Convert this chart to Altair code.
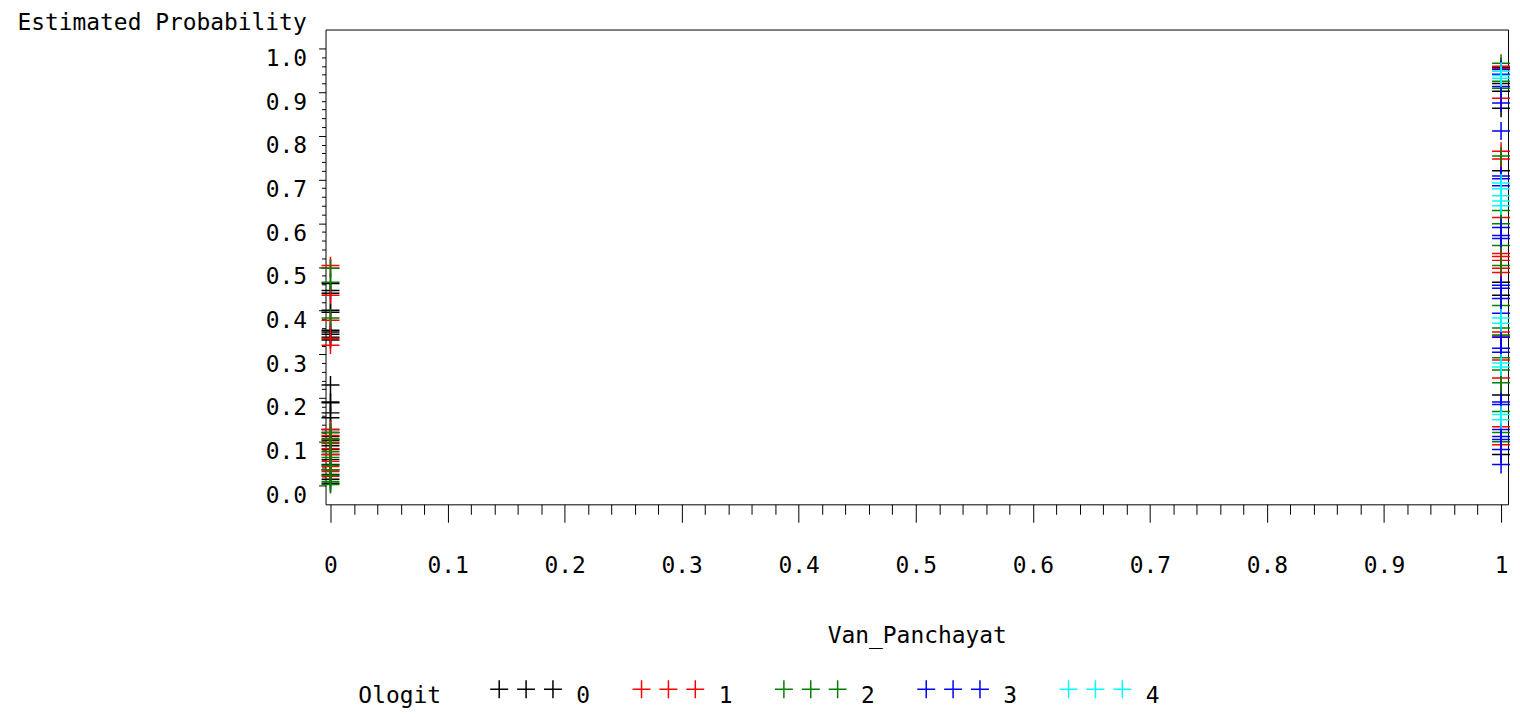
import altair as alt
import pandas as pd

# Estimated probabilities
# Van_Panchayat = 0
p0_g0 = [0.462, 0.446, 0.440, 0.401, 0.396, 0.355, 0.351, 0.346, 0.339, 0.333,
         0.230, 0.191, 0.189, 0.166, 0.155, 0.128, 0.121, 0.112, 0.103, 0.091,
         0.082, 0.071, 0.059, 0.048, 0.036, 0.025, 0.014, 0.005]
p0_g1 = [0.503, 0.497, 0.435, 0.378, 0.337, 0.321, 0.128, 0.114, 0.105, 0.096,
         0.084, 0.071, 0.055, 0.043, 0.032, 0.021]
p0_g2 = [0.497, 0.465, 0.383, 0.121, 0.107, 0.098, 0.077, 0.064, 0.046, 0.036,
         0.023, 0.009, 0.002]
# Van_Panchayat = 1
p1_g0 = [0.957, 0.920, 0.902, 0.863, 0.720, 0.465, 0.435, 0.207, 0.071]
p1_g1 = [0.959, 0.954, 0.886, 0.765, 0.747, 0.613, 0.531, 0.524, 0.515, 0.497,
         0.487, 0.351, 0.342, 0.287, 0.246, 0.134, 0.093]
p1_g2 = [0.966, 0.925, 0.909, 0.754, 0.629, 0.599, 0.549, 0.503, 0.412, 0.360,
         0.344, 0.292, 0.264, 0.235, 0.169, 0.121, 0.100]
p1_g3 = [0.952, 0.941, 0.913, 0.875, 0.811, 0.708, 0.702, 0.686, 0.590, 0.572,
         0.565, 0.458, 0.451, 0.428, 0.394, 0.339, 0.314, 0.305, 0.191, 0.185,
         0.128, 0.112, 0.105, 0.082, 0.048]
p1_g4 = [0.948, 0.938, 0.932, 0.692, 0.679, 0.663, 0.651, 0.640, 0.383, 0.371,
         0.280, 0.271, 0.162, 0.150]

groups = ["0", "1", "2", "3", "4"]
colors = ["#000000", "#ff0000", "#008000", "#0000ff", "#00ffff"]
tick_vals = [round(i * 0.02, 2) for i in range(51)]

series = [
    ("0", 0, p0_g0), ("0", 1, p1_g0),
    ("1", 0, p0_g1), ("1", 1, p1_g1),
    ("2", 0, p0_g2), ("2", 1, p1_g2),
    ("3", 1, p1_g3),
    ("4", 1, p1_g4),
]
rows = []
order = 0
for g, xv, vals in series:
    for v in vals:
        rows.append({"Ologit": g, "Van_Panchayat": xv, "prob": v, "ord": order})
        order += 1
df = pd.DataFrame(rows)

FONT = "DejaVu Sans Mono"
FS = 23
CROSS = "M-1,0L1,0M0,-1L0,1"
# three crosses, drawn a little above the entry centre so the label sits lower
CROSS3 = ("M-1,-0.78L1,-0.78M0,-1.78L0,0.22"
          "M2,-0.78L4,-0.78M3,-1.78L3,0.22"
          "M5,-0.78L7,-0.78M6,-1.78L6,0.22")
major = "round(datum.value*50) % 5 == 0"

chart = alt.Chart(df).mark_point(
    shape=CROSS, size=324, filled=False, strokeWidth=1.5, opacity=1
).encode(
    x=alt.X("Van_Panchayat:Q",
            scale=alt.Scale(domain=[-0.00425, 1.00595], nice=False, zero=False),
            axis=alt.Axis(
                values=tick_vals, title="Van_Panchayat",
                labelExpr=f"{major} ? format(datum.value, '.1~f') : ''",
                tickSize={"condition": {"test": major, "value": 18}, "value": 10},
                labelPadding=44, labelBaseline="middle", labelOverlap=False,
                labelFlush=False, titleY=132, titleBaseline="middle",
                titleFontWeight="normal", grid=False, domain=False)),
    y=alt.Y("prob:Q",
            scale=alt.Scale(domain=[-0.04328, 1.04328], nice=False, zero=False),
            axis=alt.Axis(
                values=tick_vals, title="Estimated Probability",
                labelExpr=f"{major} ? format(datum.value, '.1f') : ''",
                tickSize={"condition": {"test": major, "value": 7}, "value": 4},
                labelPadding=12, labelOffset=10, labelBaseline="middle",
                labelOverlap=False, labelFlush=False,
                titleAngle=0, titleAlign="left", titleBaseline="middle",
                titleX=-310, titleY=-7, titleFontWeight="normal",
                grid=False, domain=False)),
    color=alt.Color("Ologit:N",
                    scale=alt.Scale(domain=groups, range=colors),
                    legend=alt.Legend(
                        orient="none", legendX=33, legendY=658,
                        direction="horizontal", title="Ologit",
                        titleOrient="left", titleFontWeight="normal",
                        titleBaseline="middle", titlePadding=46,
                        symbolType=CROSS3, symbolSize=324,
                        symbolStrokeWidth=1.5, labelOffset=66,
                        columnPadding=39, labelBaseline="middle", padding=0)),
    order=alt.Order("ord:Q"),
).properties(
    width=1188, height=477, background="white",
    autosize=alt.AutoSizeParams(type="none"),
    padding={"left": 319, "top": 20, "right": 4, "bottom": 204},
).configure_view(
    stroke="#000000", strokeWidth=1, fill="white"
).configure_axis(
    labelFont=FONT, labelFontSize=FS, titleFont=FONT, titleFontSize=FS,
    labelColor="#000000", titleColor="#000000", tickColor="#000000",
    tickWidth=1, domain=False, grid=False,
).configure_legend(
    labelFont=FONT, labelFontSize=FS, titleFont=FONT, titleFontSize=FS,
    labelColor="#000000", titleColor="#000000",
)

chart.save("out.html", embed_options={"renderer": "svg", "actions": False})
